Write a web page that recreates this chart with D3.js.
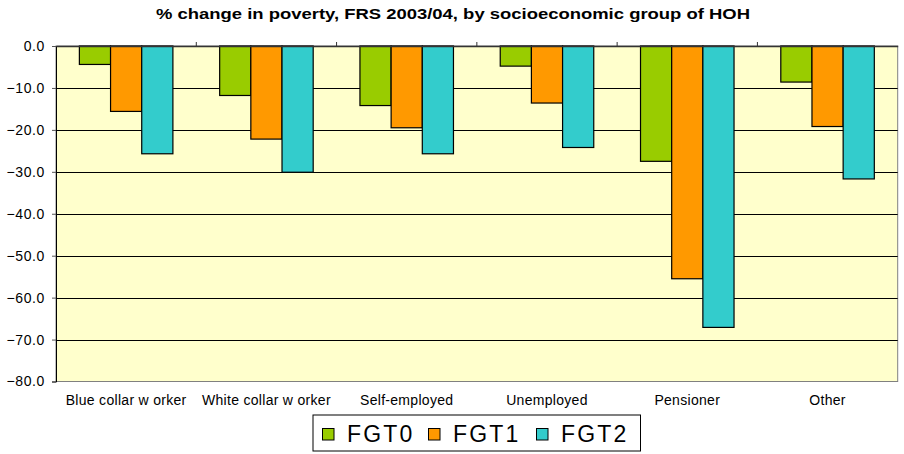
<!DOCTYPE html>
<html>
<head>
<meta charset="utf-8">
<script src="https://cdn.jsdelivr.net/npm/d3@7"></script>
<style>
html,body{margin:0;padding:0;background:#fff;}
svg{display:block;font-family:Arial,"Liberation Sans",sans-serif;}
</style>
</head>
<body>
<svg id="chart" width="904" height="454"></svg>
<script>
const categories = ["Blue collar w orker","White collar w orker","Self-employed","Unemployed","Pensioner","Other"];
const seriesNames = ["FGT0","FGT1","FGT2"];
const fgt0 = [-4.4,-11.8,-14.2,-4.8,-27.5,-8.6];
const fgt1 = [-15.6,-22.2,-19.5,-13.6,-55.5,-19.2];
const fgt2 = [-25.7,-30.1,-25.7,-24.2,-67.1,-31.7];
const yTicks = [0,-10,-20,-30,-40,-50,-60,-70,-80];
const colors = ["#99CC00","#FF9900","#33CCCC"];
const titleText = "% change in poverty, FRS 2003/04, by socioeconomic group of HOH";

const seriesValues = [fgt0, fgt1, fgt2];
const svg = d3.select("#chart");
const L = 56, R = 897.7, T = 46, B = 381.5;

const x0 = d3.scaleBand().domain(categories).range([L, R]).padding(0);
const x1 = d3.scaleBand().domain(seriesNames).range([0, x0.bandwidth()]).paddingInner(0).paddingOuter(0.75);
const y = d3.scaleLinear().domain([-80, 0]).range([B, T]);

// title
svg.append("text")
  .attr("x", 453).attr("y", 19)
  .attr("text-anchor", "middle")
  .attr("font-weight", "bold").attr("font-size", 15)
  .attr("textLength", 594).attr("lengthAdjust", "spacingAndGlyphs")
  .text(titleText);

// plot background
svg.append("rect").attr("x", L).attr("y", T).attr("width", R - L).attr("height", B - T)
  .attr("fill", "#FFFFCC").attr("stroke", "#808080").attr("stroke-width", 1);

// gridlines
svg.append("g").selectAll("line").data(yTicks.filter(d => d !== -80 && d !== 0)).join("line")
  .attr("x1", L).attr("x2", R)
  .attr("y1", d => Math.round(y(d)) + 0.5).attr("y2", d => Math.round(y(d)) + 0.5)
  .attr("stroke", "#000").attr("stroke-width", 1);

// y axis
const yAxis = d3.axisLeft(y).tickValues(yTicks).tickFormat(d3.format(".1f")).tickSize(4).tickPadding(7);
const ya = svg.append("g").attr("transform", `translate(${L},0)`).call(yAxis);
ya.select(".domain").attr("stroke", "#000");
ya.selectAll(".tick line").attr("stroke", "#555");
ya.selectAll("text").attr("font-size", 14).attr("letter-spacing", 0.6).attr("fill", "#000")
  .attr("font-family", "Arial, 'Liberation Sans', sans-serif");

// bars
const groups = svg.append("g").selectAll("g").data(categories).join("g")
  .attr("transform", d => `translate(${x0(d)},0)`);
groups.selectAll("rect").data((d, i) => seriesNames.map((s, j) => ({s, j, v: seriesValues[j][i]}))).join("rect")
  .attr("x", d => x1(d.s))
  .attr("y", y(0))
  .attr("width", x1.bandwidth())
  .attr("height", d => y(d.v) - y(0))
  .attr("fill", d => colors[d.j])
  .attr("stroke", "#000").attr("stroke-width", 1.2);

// category axis along the zero line (top)
const xAxis = d3.axisTop(x0).tickSize(0).tickFormat("");
const xa = svg.append("g").attr("transform", `translate(0,${y(0)})`).call(xAxis);
xa.select(".domain").attr("stroke", "#333").attr("stroke-width", 1.5);
svg.append("g").selectAll("line").data(categories.slice(1)).join("line")
  .attr("x1", d => x0(d)).attr("x2", d => x0(d))
  .attr("y1", y(0) - 4).attr("y2", y(0))
  .attr("stroke", "#333");

// category labels at bottom
svg.append("g").selectAll("text").data(categories).join("text")
  .attr("x", d => x0(d) + x0.bandwidth() / 2)
  .attr("y", 405)
  .attr("text-anchor", "middle")
  .attr("font-size", 14).attr("letter-spacing", 0.3)
  .text(d => d);

// legend
const lg = svg.append("g");
lg.append("rect").attr("x", 313).attr("y", 415).attr("width", 327.5).attr("height", 36)
  .attr("fill", "#fff").attr("stroke", "#000").attr("stroke-width", 1);
const legX = [322, 428, 536];
const items = lg.selectAll("g").data(seriesNames).join("g")
  .attr("transform", (d, i) => `translate(${legX[i]},0)`);
items.append("rect").attr("x", 0.5).attr("y", 428.5).attr("width", 11.5).attr("height", 11.5)
  .attr("fill", (d, i) => colors[i]).attr("stroke", "#000").attr("stroke-width", 1);
items.append("text").attr("x", 25).attr("y", 441.5)
  .attr("font-size", 23).attr("letter-spacing", 2.2)
  .text(d => d);
</script>
</body>
</html>
